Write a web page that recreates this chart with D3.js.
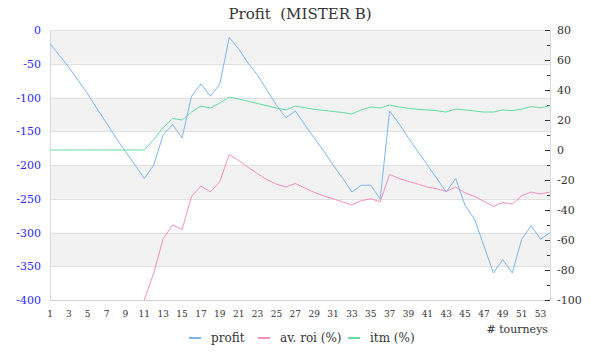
<!DOCTYPE html>
<html><head><meta charset="utf-8">
<script src="https://cdn.jsdelivr.net/npm/d3@7/dist/d3.min.js"></script>
<style>body{margin:0;background:#fff}</style>
</head><body><svg id="c" width="600" height="360"></svg>
<script>
const tourneys = d3.range(1, 55);
const profit = [-20,-38,-55,-75,-95,-117,-138,-160,-180,-200,-220,-200,-155,-140,-160,-98,-80,-98,-80,-11,-28,-49,-67,-89,-111,-130,-120,-140,-160,-179,-200,-219,-240,-230,-230,-250,-120,-139,-160,-180,-200,-220,-240,-220,-260,-280,-320,-360,-340,-360,-310,-290,-310,-300];
const roi = [null,null,null,null,null,null,null,null,null,null,-100,-82,-59,-50,-53,-31,-24,-28,-21,-3,-7,-11.5,-15.8,-19.8,-22.7,-24.7,-22.3,-25.3,-28.2,-30.5,-32.5,-34.5,-36.7,-33.8,-32.5,-34.5,-16.3,-19,-21,-22.7,-24.7,-25.8,-27.6,-24.7,-28.7,-30.9,-34.2,-37.6,-35,-36,-30.5,-28,-29.3,-28];
const itm = [0,0,0,0,0,0,0,0,0,0,0,7,15,21,20,25.3,29.3,28,31.3,35.3,34,32.5,31,29.5,28,26.7,29.3,28.2,27.1,26.4,25.7,25,24,26.7,28.7,28,30,28.7,27.8,27.1,26.7,26.2,25.3,27.3,26.7,26,25.3,25.3,26.7,26.2,27.3,28.9,28.2,29.5];
const leftTicks = [0,-50,-100,-150,-200,-250,-300,-350,-400];
const rightTicks = [80,60,40,20,0,-20,-40,-60,-80,-100];
const xLabels = d3.range(1, 54, 2);
const seriesNames = ["profit","av. roi (%)","itm (%)"];
const colors = ["#7cb5ec","#f48fc1","#66dd9f"];

const FONT = "DejaVu Serif";
const svg = d3.select("#c");
const L=50,R=550,T=30,B=300;
const x = d3.scaleLinear().domain([1,54]).range([L,R]);
const yL = d3.scaleLinear().domain([-400,0]).range([B,T]);
const yR = d3.scaleLinear().domain([-100,80]).range([B,T]);

for(let i=0;i<leftTicks.length-1;i+=2){
  svg.append("rect").attr("x",L).attr("width",R-L)
    .attr("y",yL(leftTicks[i])).attr("height",yL(leftTicks[i+1])-yL(leftTicks[i]))
    .attr("fill","#f2f2f2");
}
svg.append("g").selectAll("line").data(leftTicks).join("line")
  .attr("x1",L).attr("x2",R).attr("y1",d=>Math.round(yL(d))+0.5).attr("y2",d=>Math.round(yL(d))+0.5)
  .attr("stroke","#e0e0e0");
svg.append("line").attr("x1",L+0.5).attr("x2",L+0.5).attr("y1",T).attr("y2",B).attr("stroke","#d8d8d8");
svg.append("line").attr("x1",R+0.5).attr("x2",R+0.5).attr("y1",T).attr("y2",B).attr("stroke","#d8d8d8");
svg.append("line").attr("x1",L).attr("x2",R).attr("y1",B+0.5).attr("y2",B+0.5).attr("stroke","#d0d0d0");

svg.append("g").selectAll("text").data(leftTicks).join("text")
  .attr("x",41).attr("y",d=>yL(d)+4).attr("text-anchor","end").style("font-family",FONT)
  .style("font-size","11px").attr("fill","#2a2aff").text(d=>d);
const rMinor = d3.range(-100,81,10);
svg.append("g").selectAll("line").data(rMinor).join("line")
  .attr("x1",d=>d%20===0?545:547).attr("x2",550).attr("y1",d=>Math.round(yR(d))+0.5).attr("y2",d=>Math.round(yR(d))+0.5)
  .attr("stroke","#333");
svg.append("g").selectAll("text").data(rightTicks).join("text")
  .attr("x",557).attr("y",d=>yR(d)+4).attr("text-anchor","start").style("font-family",FONT)
  .style("font-size","11px").attr("fill","#333").text(d=>d);
svg.append("g").selectAll("text").data(xLabels).join("text")
  .attr("x",d=>x(d)).attr("y",317).attr("text-anchor","middle").style("font-family",FONT)
  .style("font-size","9px").attr("fill","#333").text(d=>d);
svg.append("text").attr("x",548).attr("y",333).attr("text-anchor","end").style("font-family",FONT)
  .style("font-size","11px").attr("fill","#333").text("# tourneys");

svg.append("clipPath").attr("id","cp").append("rect").attr("x",L).attr("y",T-2).attr("width",R-L+1).attr("height",B-T+2);
const g = svg.append("g").attr("clip-path","url(#cp)");
const lineL = d3.line().defined(d=>d[1]!=null).x(d=>x(d[0])).y(d=>yL(d[1]));
const lineR = d3.line().defined(d=>d[1]!=null).x(d=>x(d[0])).y(d=>yR(d[1]));
g.append("path").datum(tourneys.map((t,i)=>[t,itm[i]])).attr("d",lineR).attr("fill","none").attr("stroke",colors[2]).attr("stroke-width",1);
g.append("path").datum(tourneys.map((t,i)=>[t,roi[i]])).attr("d",lineR).attr("fill","none").attr("stroke",colors[1]).attr("stroke-width",1);
g.append("path").datum(tourneys.map((t,i)=>[t,profit[i]])).attr("d",lineL).attr("fill","none").attr("stroke",colors[0]).attr("stroke-width",1);

svg.append("text").attr("x",300).attr("y",19).attr("text-anchor","middle").style("font-family",FONT)
  .style("font-size","15px").attr("fill","#333").style("white-space","pre").text("Profit  (MISTER B)");

const legX = [189,258,348];
seriesNames.forEach((n,i)=>{
  svg.append("line").attr("x1",legX[i]).attr("x2",legX[i]+12).attr("y1",338).attr("y2",338).attr("stroke",colors[i]).attr("stroke-width",2);
  svg.append("text").attr("x",legX[i]+22).attr("y",342).style("font-family",FONT).style("font-size","12px").attr("fill","#333").text(n);
});
</script></body></html>
